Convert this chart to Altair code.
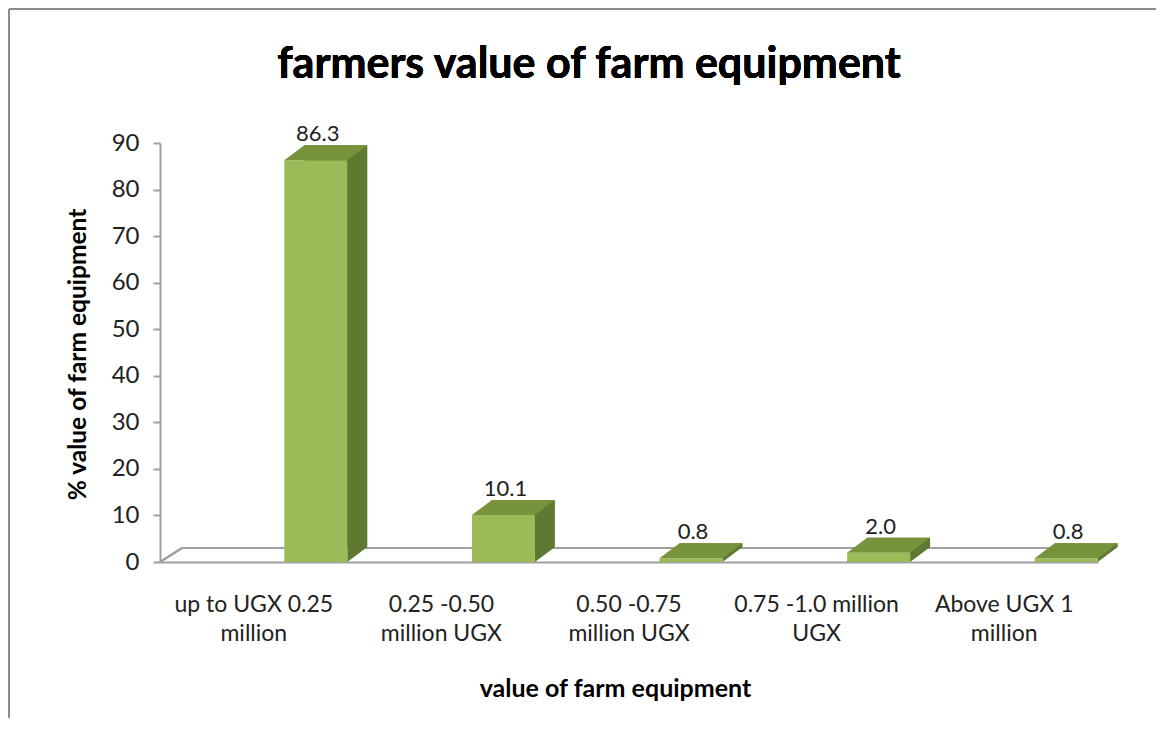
import altair as alt
import pandas as pd

categories = [
    "up to UGX 0.25\nmillion",
    "0.25 -0.50\nmillion UGX",
    "0.50 -0.75\nmillion UGX",
    "0.75 -1.0 million\nUGX",
    "Above UGX 1\nmillion",
]
values = [86.3, 10.1, 0.8, 2.0, 0.8]
y_ticks = [0, 10, 20, 30, 40, 50, 60, 70, 80, 90]

title_text = "farmers value of farm equipment"
x_title = "value of farm equipment"
y_title = "% value of farm equipment"

FRONT = "#9BBB59"
TOP = "#77933C"
SIDE = "#5F7832"
FLOOR = "#A0A0A0"
FONT = "Lato"

W, H = 938, 419
PAD_L, PAD_T = 152, 135
CANVAS_W, CANVAS_H = 1148, 710

BAR_W = 63
SHIFT = 62      # bar front-face offset from band centre
DX, DY = 20, 15  # 3-D depth

df = pd.DataFrame({"cat": categories, "val": values})

x_enc = alt.X(
    "cat:N",
    sort=categories,
    scale=alt.Scale(paddingInner=0, paddingOuter=0),
    axis=alt.Axis(
        title=x_title,
        titleFont=FONT, titleFontSize=25, titleFontWeight="bold", titleColor="#000",
        titleX=455, titleY=126, titleBaseline="middle",
        labelExpr="split(datum.label, '\\n')",
        labelFont=FONT, labelFontSize=23, labelColor="#222",
        labelLineHeight=29, labelPadding=31, labelAngle=0,
        ticks=False, domainColor=FLOOR, domainWidth=2,
    ),
)
y_enc = alt.Y(
    "val:Q",
    scale=alt.Scale(domain=[0, 90], nice=False),
    axis=alt.Axis(
        title=y_title,
        titleFont=FONT, titleFontSize=24.5, titleFontWeight="bold", titleColor="#000",
        titleX=-82, titleY=211, titleBaseline="middle", titleAngle=270,
        values=y_ticks, labelFont=FONT, labelFontSize=24, labelColor="#222",
        labelPadding=14, tickSize=7, tickColor=FLOOR, tickWidth=2,
        domainColor=FLOOR, domainWidth=2, grid=False,
    ),
)

base = alt.Chart(df)

# floor outline (decoration)
floor_back = base.mark_rule(color=FLOOR, strokeWidth=2).encode(
    x=alt.value(DX + 2), x2=alt.value(W + 17), y=alt.value(H - 14)
)
floor_left = base.mark_rule(color=FLOOR, strokeWidth=2).encode(
    x=alt.value(0), x2=alt.value(DX + 2), y=alt.value(H), y2=alt.value(H - 14)
)

back = base.mark_bar(
    width=BAR_W, xOffset=SHIFT + DX, yOffset=-DY, y2Offset=-DY, color=SIDE
).encode(x=x_enc, y=y_enc)

r = DY / 2 / (DX / 2)
tri_path = f"M-1,{r} L-1,{-r} L1,{-r} Z"
tri = base.mark_point(
    shape=tri_path, size=DX * DX, filled=True, color=SIDE, opacity=1,
    strokeWidth=0, xOffset=SHIFT + BAR_W / 2 + DX / 2, yOffset=-DY / 2,
).encode(x=x_enc, y=alt.datum(0))

front = base.mark_bar(width=BAR_W, xOffset=SHIFT, color=FRONT).encode(x=x_enc, y=y_enc)

half = (BAR_W + DX) / 2
k = (BAR_W - half) / half
ry = (DY / 2) / half
top_path = f"M-1,{ry} L{k:.4f},{ry} L1,{-ry} L{-k:.4f},{-ry} Z"
top = base.mark_point(
    shape=top_path, size=(BAR_W + DX) ** 2, filled=True, color=TOP, opacity=1,
    strokeWidth=0, xOffset=SHIFT + DX / 2, yOffset=-DY / 2,
).encode(x=x_enc, y=y_enc)

labels = base.mark_text(
    font=FONT, fontSize=22, color="#222", baseline="bottom",
    xOffset=SHIFT + 2, yOffset=-DY + 1,
).encode(x=x_enc, y=y_enc, text=alt.Text("val:Q", format=".1f"))

title = base.mark_text(
    font=FONT, fontSize=43, fontWeight="bold", color="#000",
    baseline="alphabetic", align="center",
).encode(x=alt.value(429), y=alt.value(-65), text=alt.value(title_text))

border_top = base.mark_rule(color="#8C8C8C", strokeWidth=2).encode(
    x=alt.value(-PAD_L + 1), x2=alt.value(CANVAS_W - PAD_L), y=alt.value(-PAD_T + 1)
)
border_left = base.mark_rule(color="#8C8C8C", strokeWidth=2).encode(
    x=alt.value(-PAD_L + 1), y=alt.value(-PAD_T + 1), y2=alt.value(CANVAS_H - PAD_T)
)

chart = alt.layer(
    floor_back, floor_left, back, tri, front, top, labels, title, border_top, border_left
).properties(
    width=W, height=H,
    autosize=alt.AutoSizeParams(type="none"),
    padding={"left": PAD_L, "top": PAD_T, "right": CANVAS_W - PAD_L - W, "bottom": CANVAS_H - PAD_T - H},
    background="white",
).configure_view(stroke=None)

chart.save("out.html", embed_options={"renderer": "svg", "actions": False})
